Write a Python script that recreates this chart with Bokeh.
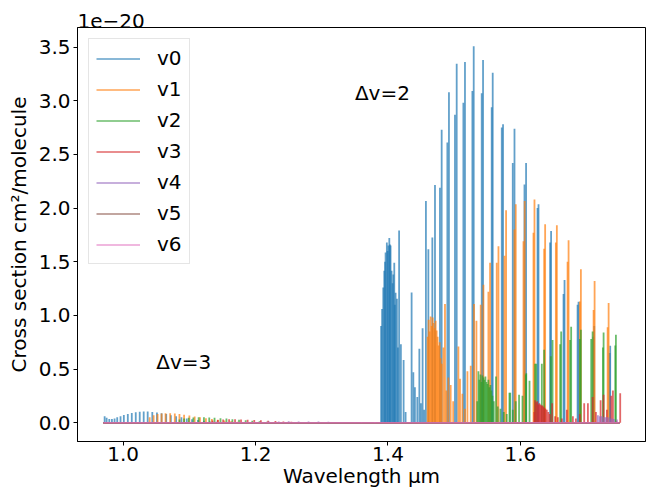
from bokeh.plotting import figure
from bokeh.models import Range1d, FixedTicker, PrintfTickFormatter, Legend, LegendItem, Title
from bokeh.core.properties import value
from bokeh.embed import file_html
from bokeh.resources import INLINE

# ---- data (cross section in units of 1e-20 cm^2/molecule, wavelength in micron) ----
wl_span = [0.97, 1.75]
series_names = ["v0", "v1", "v2", "v3", "v4", "v5", "v6"]
series_colors = ["#1f77b4", "#ff7f0e", "#2ca02c", "#d62728", "#9467bd", "#8c564b", "#e377c2"]

v0_wl = [0.972, 0.975, 0.979, 0.983, 0.987, 0.991, 0.996, 1.001, 1.007, 1.013, 1.019, 1.025,
         1.031, 1.037, 1.044, 1.051, 1.058, 1.065, 1.072, 1.080, 1.088, 1.096, 1.104, 1.113,
         1.122, 1.131, 1.141, 1.151,
         1.3896, 1.3911, 1.3929, 1.3944, 1.3956, 1.3964, 1.3983, 1.3994, 1.4005, 1.4020,
         1.4029, 1.4039, 1.4054, 1.4070, 1.4080, 1.4095, 1.4104, 1.4115, 1.4135, 1.4150,
         1.4168, 1.4195, 1.4236, 1.4266, 1.4357, 1.4383, 1.4407, 1.4443, 1.4474, 1.4498,
         1.4523, 1.4546, 1.4573, 1.4610, 1.4670, 1.4710, 1.4785, 1.4811, 1.4897, 1.4921,
         1.5012, 1.5038, 1.5139, 1.5163, 1.5275, 1.5295, 1.5416, 1.5436, 1.5567, 1.5582,
         1.5719, 1.5738, 1.5885, 1.5911, 1.6062, 1.6086, 1.6259, 1.6274, 1.6449, 1.6464,
         1.6652, 1.6667, 1.6864, 1.6879, 1.7103, 1.7115, 1.7348, 1.7357]
v0_xs = [0.060, 0.045, 0.035, 0.035, 0.040, 0.050, 0.060, 0.072, 0.080, 0.090, 0.097, 0.102,
         0.105, 0.104, 0.100, 0.095, 0.088, 0.080, 0.070, 0.060, 0.050, 0.040, 0.032, 0.025,
         0.018, 0.012, 0.008, 0.005,
         0.90, 1.06, 1.26, 1.415, 1.50, 1.585, 1.68, 1.60, 1.65, 1.72,
         1.66, 1.65, 1.415, 1.30, 1.38, 1.49, 1.10, 1.21, 1.155, 0.70,
         1.79, 0.73, 0.585, 0.10, 1.214, 0.47, 0.33, 0.24, 0.69, 0.18,
         0.88, 0.12, 2.066, 1.617, 1.725, 2.215, 2.19, 2.73, 2.61, 3.08,
         2.87, 3.345, 2.98, 3.36, 3.09, 3.507, 3.07, 3.38, 2.94, 3.26,
         2.75, 2.78, 2.42, 2.74, 2.22, 2.42, 2.00, 2.035, 1.68, 1.787,
         1.20, 1.33, 1.10, 1.127, 0.80, 0.90, 0.65, 0.718]

v1_wl = [1.040, 1.046, 1.052, 1.058, 1.064, 1.071, 1.078, 1.085, 1.092, 1.100, 1.108, 1.116,
         1.125, 1.134, 1.143, 1.153, 1.163, 1.173, 1.184,
         1.4599, 1.4614, 1.4629, 1.4644, 1.4660, 1.4675, 1.4690, 1.4705, 1.4720, 1.4735,
         1.4750, 1.4765, 1.4781, 1.4796, 1.4811, 1.4837, 1.4861, 1.4882, 1.4912, 1.4947,
         1.4985, 1.5064, 1.5088, 1.5124, 1.5163, 1.5200, 1.5250, 1.5300, 1.5336, 1.5401,
         1.5442, 1.5517, 1.5542, 1.5643, 1.5669, 1.5760, 1.5784, 1.5911, 1.5930, 1.6047,
         1.6065, 1.6198, 1.6213, 1.6359, 1.6374, 1.6536, 1.6551, 1.6713, 1.6728, 1.6899,
         1.6914, 1.7106, 1.7121, 1.7318, 1.7333]
v1_xs = [0.050, 0.070, 0.080, 0.085, 0.088, 0.088, 0.085, 0.080, 0.074, 0.066, 0.058, 0.050,
         0.042, 0.034, 0.027, 0.020, 0.014, 0.009, 0.006,
         0.80, 0.96, 0.85, 0.99, 0.90, 0.98, 0.93, 0.88, 0.95, 0.86,
         0.80, 0.72, 0.75, 0.60, 0.55, 0.70, 1.105, 0.30, 0.42, 0.35,
         0.20, 0.71, 0.41, 0.27, 0.13, 0.48, 0.53, 1.105, 0.95, 1.10,
         1.285, 1.22, 1.49, 1.49, 1.645, 1.555, 1.98, 1.80, 2.035, 1.69,
         2.066, 1.77, 2.08, 1.62, 1.85, 1.68, 1.84, 1.50, 1.70, 1.13,
         1.43, 1.05, 1.32, 0.89, 1.115]

v2_wl = [1.085, 1.092, 1.099, 1.106, 1.114, 1.122, 1.130, 1.138, 1.147, 1.156, 1.165, 1.175,
         1.185, 1.195, 1.206, 1.217, 1.229,
         1.5348, 1.5366, 1.5381, 1.5396, 1.5412, 1.5427, 1.5442, 1.5457, 1.5472, 1.5487,
         1.5502, 1.5517, 1.5533, 1.5548, 1.5563, 1.5578, 1.5598, 1.5632, 1.5658, 1.5699,
         1.5749, 1.5794, 1.5835, 1.5847, 1.5885, 1.5930, 1.5980, 1.6032, 1.6082, 1.6089,
         1.6138, 1.6222, 1.6241, 1.6324, 1.6359, 1.6460, 1.6486, 1.6601, 1.6616, 1.6752,
         1.6767, 1.6899, 1.6914, 1.7070, 1.7091, 1.7247, 1.7257, 1.7433, 1.7443]
v2_xs = [0.030, 0.040, 0.045, 0.048, 0.050, 0.050, 0.048, 0.046, 0.042, 0.038, 0.033, 0.028,
         0.023, 0.018, 0.013, 0.009, 0.006,
         0.20, 0.48, 0.40, 0.45, 0.38, 0.44, 0.42, 0.40, 0.43, 0.38,
         0.36, 0.40, 0.33, 0.35, 0.30, 0.25, 0.20, 0.43, 0.15, 0.13,
         0.10, 0.08, 0.28, 0.28, 0.12, 0.20, 0.26, 0.25, 0.45, 0.46,
         0.39, 0.55, 0.55, 0.55, 0.68, 0.62, 0.77, 0.73, 0.85, 0.77,
         0.895, 0.78, 0.865, 0.78, 0.85, 0.70, 0.84, 0.72, 0.82]

v3_wl = [1.135, 1.143, 1.151, 1.160, 1.169, 1.178, 1.188, 1.198, 1.208, 1.219, 1.230, 1.242,
         1.254, 1.267, 1.280,
         1.6210, 1.6222, 1.6241, 1.6256, 1.6271, 1.6286, 1.6301, 1.6316, 1.6331, 1.6346,
         1.6362, 1.6377, 1.6399, 1.6422, 1.6445, 1.6480, 1.6525, 1.6566, 1.6626, 1.6702,
         1.6793, 1.6838, 1.6899, 1.6964, 1.7020, 1.7091, 1.7141, 1.7212, 1.7257, 1.7307,
         1.7372, 1.7398, 1.7508]
v3_xs = [0.020, 0.026, 0.030, 0.032, 0.032, 0.030, 0.028, 0.025, 0.022, 0.018, 0.015, 0.012,
         0.009, 0.006, 0.004,
         0.10, 0.21, 0.19, 0.20, 0.17, 0.18, 0.17, 0.16, 0.16, 0.15,
         0.14, 0.13, 0.12, 0.10, 0.08, 0.18, 0.06, 0.05, 0.04, 0.12,
         0.06, 0.04, 0.08, 0.18, 0.18, 0.24, 0.10, 0.21, 0.26, 0.12,
         0.25, 0.30, 0.275]

v4_wl = [1.22, 1.235, 1.25, 1.265, 1.28, 1.295, 1.31, 1.33, 1.35,
         1.7171, 1.7201, 1.7231, 1.7262, 1.7292, 1.7322, 1.7352, 1.7383, 1.7413, 1.7458]
v4_xs = [0.010, 0.012, 0.013, 0.012, 0.011, 0.010, 0.008, 0.006, 0.004,
         0.07, 0.06, 0.06, 0.05, 0.05, 0.05, 0.04, 0.04, 0.035, 0.03]

v5_wl = [1.30, 1.32, 1.34, 1.36, 1.745]
v5_xs = [0.005, 0.005, 0.004, 0.003, 0.01]

v6_wl = [1.36, 1.38]
v6_xs = [0.002, 0.002]

series_wl = [v0_wl, v1_wl, v2_wl, v3_wl, v4_wl, v5_wl, v6_wl]
series_xs = [v0_xs, v1_xs, v2_xs, v3_xs, v4_xs, v5_xs, v6_xs]

x_ticks = [1.0, 1.2, 1.4, 1.6]
y_ticks = [0.0, 0.5, 1.0, 1.5, 2.0, 2.5, 3.0, 3.5]

# ---- figure ----
ymax = max(max(s) for s in series_xs)
xpad = 0.05 * (wl_span[1] - wl_span[0])
FONT = "DejaVu Sans"
FS = "20px"

p = figure(width=655, height=493,
           x_range=Range1d(wl_span[0] - xpad, wl_span[1] + xpad),
           y_range=Range1d(-0.05 * ymax, 1.05 * ymax),
           output_backend="svg", toolbar_location=None,
           min_border_left=77, min_border_right=10, min_border_top=27, min_border_bottom=52)

p.xgrid.visible = False
p.ygrid.visible = False
p.outline_line_color = "black"
p.outline_line_width = 1
p.background_fill_color = "white"

items = []
for name, col, wl, xs in zip(series_names, series_colors, series_wl, series_xs):
    p.segment(x0=wl, y0=[0] * len(wl), x1=wl, y1=xs,
              line_color=col, line_alpha=0.7, line_width=1.8)
    r = p.line(x=wl_span, y=[0, 0], line_color=col, line_alpha=0.7, line_width=1.5)
    items.append(LegendItem(label=name, renderers=[r]))

p.text(x=[1.05, 1.35], y=[0.565, 3.07], text=["Δv=3", "Δv=2"],
       text_font=value(FONT), text_font_size=FS, text_color="black",
       text_align="left", text_baseline="alphabetic")

for ax in (p.xaxis[0], p.yaxis[0]):
    ax.axis_line_color = "black"
    ax.major_tick_line_color = "black"
    ax.major_tick_out = 4
    ax.major_tick_in = 0
    ax.minor_tick_line_color = None
    ax.major_label_text_font = FONT
    ax.major_label_text_font_size = FS
    ax.major_label_text_color = "black"
    ax.axis_label_text_font = FONT
    ax.axis_label_text_font_size = FS
    ax.axis_label_text_font_style = "normal"
    ax.axis_label_text_color = "black"

p.xaxis.ticker = FixedTicker(ticks=x_ticks)
p.yaxis.ticker = FixedTicker(ticks=y_ticks)
p.xaxis.formatter = PrintfTickFormatter(format="%.1f")
p.yaxis.formatter = PrintfTickFormatter(format="%.1f")
p.xaxis.axis_label = "Wavelength μm"
p.yaxis.axis_label = "Cross section cm²/molecule"
p.xaxis.major_label_standoff = 1
p.yaxis.major_label_standoff = 3
p.xaxis.axis_label_standoff = 0
p.yaxis.axis_label_standoff = 5

legend = Legend(items=items, location="top_left", margin=11, padding=7, spacing=7,
                glyph_width=44, glyph_height=23, label_height=23, label_standoff=17,
                label_text_font=FONT, label_text_font_size=FS, label_text_color="black",
                border_line_color="#cccccc", border_line_width=1,
                background_fill_color="white", background_fill_alpha=0.8)
p.add_layout(legend)

t = Title(text="1e−20", align="left", text_font=FONT, text_font_size=FS,
          text_font_style="normal", text_color="black", standoff=0, offset=0)
p.add_layout(t, "above")

open("out.html", "w").write(file_html(p, INLINE))
